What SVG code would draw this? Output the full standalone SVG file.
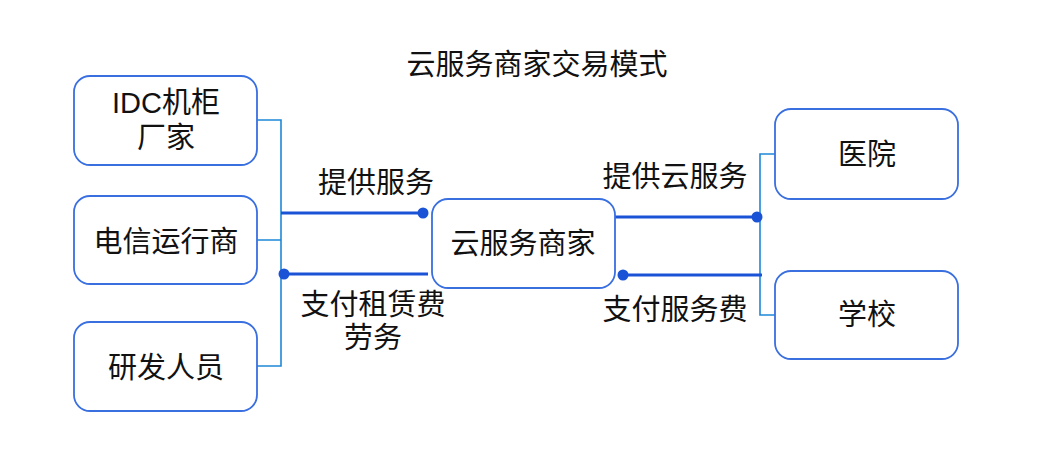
<svg xmlns="http://www.w3.org/2000/svg" width="1039" height="460" viewBox="0 0 1039 460">
<style>
.box{fill:#fff;stroke:#3a6fe0;stroke-width:1.8}
.t{font-family:"Liberation Sans","Noto Sans CJK SC",sans-serif;font-size:29px;fill:#111;text-anchor:middle}
.br{fill:none;stroke:#1e88d8;stroke-width:1.6}
.cn{fill:none;stroke:#1a53d6;stroke-width:3}
.dot{fill:#1a53d6}
</style>
<rect width="1039" height="460" fill="#fff"/>
<text class="t" x="537" y="75">云服务商家交易模式</text>
<g id="connectors">
<path class="br" d="M257,120 H281 V366 H257 M257,240 H281"/>
<path class="cn" d="M281,213 H423"/>
<circle class="dot" cx="423" cy="213" r="5.5"/>
<path class="cn" d="M284,274 H428"/>
<circle class="dot" cx="284" cy="274" r="5.5"/>
<path class="br" d="M775,154 H760 V315 H775"/>
<path class="cn" d="M615,217 H757"/>
<circle class="dot" cx="757" cy="217" r="5.5"/>
<path class="cn" d="M623,275 H762"/>
<circle class="dot" cx="623" cy="275" r="5.5"/>
<text class="t" x="376" y="193">提供服务</text>
<text class="t" x="373" y="315">支付租赁费</text>
<text class="t" x="373" y="348">劳务</text>
<text class="t" x="675" y="187">提供云服务</text>
<text class="t" x="675" y="320">支付服务费</text>
</g>
<g id="idc">
<rect class="box" x="74" y="76" width="183" height="89" rx="16"/>
<text class="t" x="166" y="113">IDC机柜</text>
<text class="t" x="166" y="148">厂家</text>
</g>
<g id="telecom">
<rect class="box" x="74" y="196" width="183" height="88" rx="16"/>
<text class="t" x="166" y="252">电信运行商</text>
</g>
<g id="dev">
<rect class="box" x="74" y="322" width="183" height="89" rx="16"/>
<text class="t" x="166" y="378">研发人员</text>
</g>
<g id="cloud">
<rect class="box" x="432" y="199" width="183" height="89" rx="16"/>
<text class="t" x="523" y="254">云服务商家</text>
</g>
<g id="hospital">
<rect class="box" x="775" y="109" width="183" height="90" rx="16"/>
<text class="t" x="867" y="165">医院</text>
</g>
<g id="school">
<rect class="box" x="775" y="271" width="183" height="88" rx="16"/>
<text class="t" x="867" y="325">学校</text>
</g>
</svg>
